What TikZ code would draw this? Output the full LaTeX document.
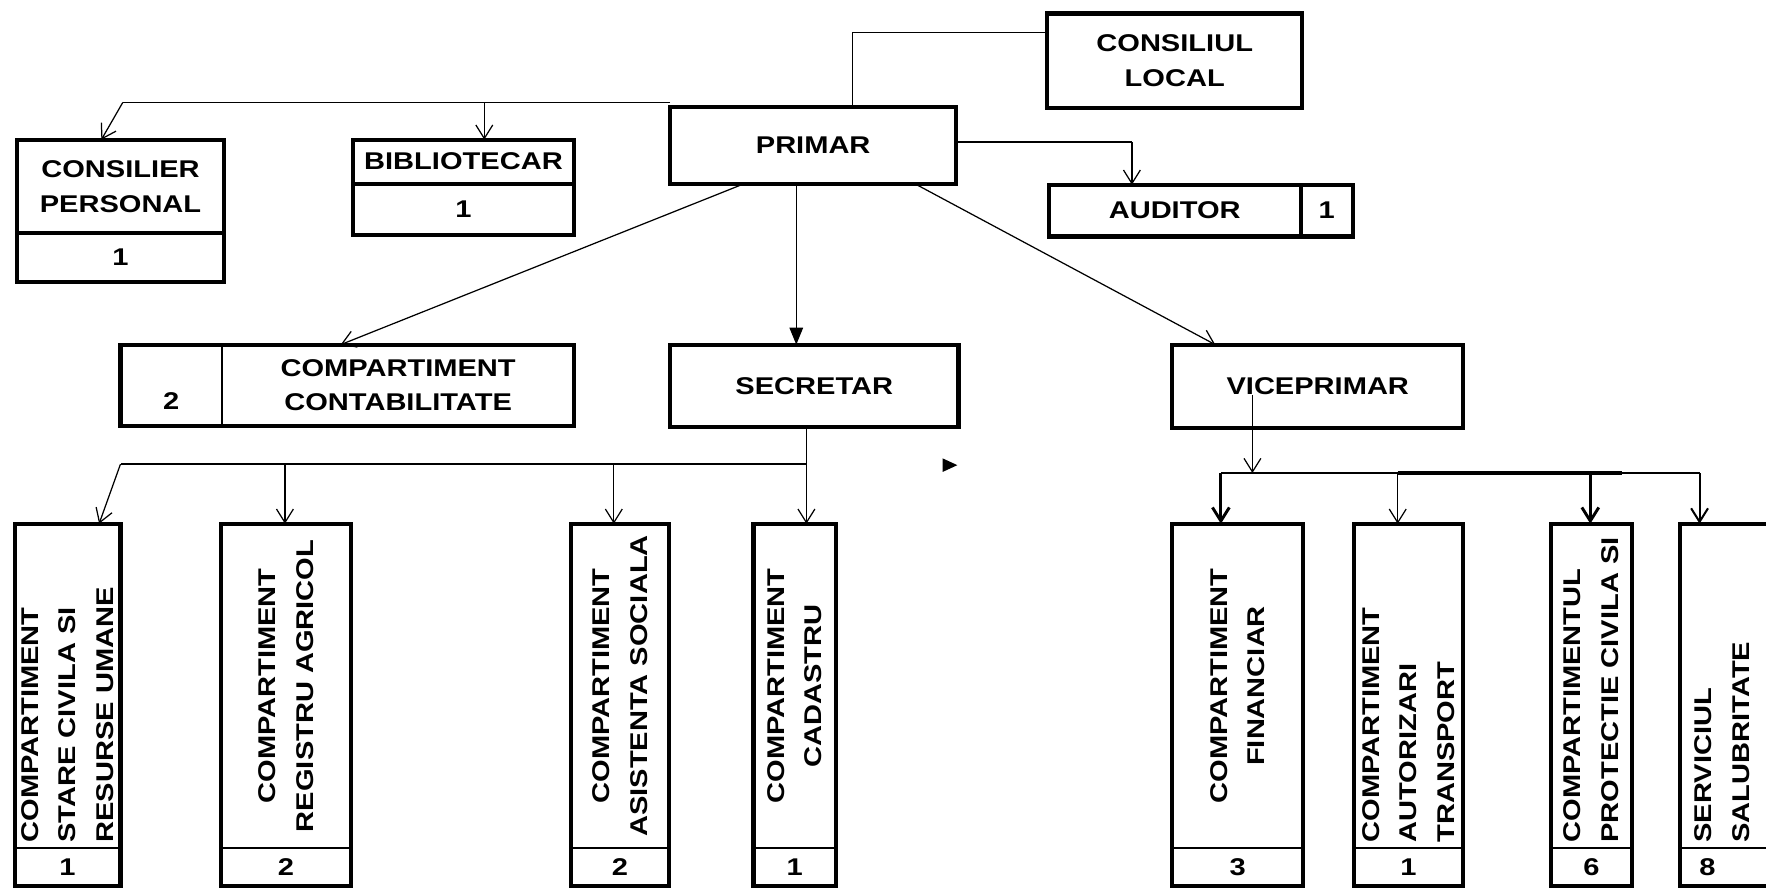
\documentclass[tikz,border=0pt]{standalone}
\usepackage{fontspec}
\setmainfont{Liberation Sans}[FakeStretch=1.2]
\usetikzlibrary{arrows.meta,positioning}

\tikzset{
  box/.style={draw, line width=3.6pt, inner sep=0pt, outer sep=0pt, align=center},
  cell/.style={draw, line width=1.2pt, inner sep=0pt, outer sep=0pt, align=center},
  link/.style={line width=1.1pt},
  conn/.style={link, -{Straight Barb[length=12pt,width=15pt]}},
  tri/.style={link, -{Triangle[length=15pt,width=12pt]}},
  vlabel/.style={rotate=90, inner xsep=5pt, inner ysep=0pt, outer sep=0pt, minimum width=288pt,
    text width=278pt, font=\bfseries\fontsize{21.5}{33.5}\selectfont}
}

\begin{document}
\begin{tikzpicture}[x=1pt, y=-1pt, font=\bfseries\fontsize{21.5}{31}\selectfont]
  \useasboundingbox (0,0) rectangle (1568,789);
  \clip (0,0) rectangle (1568,789);

  % Top: council, mayor and staff
  \node[box, minimum width=226pt, minimum height=84pt] (council) at (1043,54) {CONSILIUL\\LOCAL};
  \node[box, minimum width=254pt, minimum height=68pt] (mayor) at (722,129) {PRIMAR};
  \node[box, minimum width=184pt, minimum height=83pt] (advisor) at (107,165.5) {CONSILIER\\PERSONAL};
  \node[box, minimum width=184pt, minimum height=43pt, below=0pt of advisor] (advisor-k) {1};
  \node[box, minimum width=197pt, minimum height=39pt] (librarian) at (411.5,143.5) {BIBLIOTECAR};
  \node[box, minimum width=197pt, minimum height=46pt, below=0pt of librarian] (librarian-k) {1};
  \node[box, minimum width=224pt, minimum height=46pt] (auditor) at (1043,187) {AUDITOR};
  \node[box, minimum width=46pt, minimum height=46pt, right=0pt of auditor] (auditor-k) {1};

  % Middle row
  \node[box, minimum width=403pt, minimum height=72pt] (accounting) at (308.5,342) {};
  \node[cell, minimum width=90pt, minimum height=72pt, anchor=west] (accounting-k) at (accounting.west) {\strut\\\strut2};
  \node[cell, minimum width=313pt, minimum height=72pt, anchor=east] (accounting-t) at (accounting.east) {COMPARTIMENT\\CONTABILITATE};
  \node[box, minimum width=256pt, minimum height=73pt] (secretary) at (723,342.5) {SECRETAR};
  \node[box, minimum width=258pt, minimum height=74pt] (deputy) at (1170,343) {VICEPRIMAR};

  % Bottom: departments
  \foreach \nm/\x/\w/\cnt/\al/\txt in {
      civil/60/94/1/left/{COMPARTIMENT\\STARE CIVILA SI\\RESURSE UMANE},
      registry/254/116/2/center/{COMPARTIMENT\\REGISTRU AGRICOL},
      social/550.5/87/2/center/{COMPARTIMENT\\ASISTENTA SOCIALA},
      cadastre/705.5/73/1/center/{COMPARTIMENT\\CADASTRU},
      finance/1099/116/3/center/{COMPARTIMENT\\FINANCIAR},
      transport/1250.5/97/1/left/{COMPARTIMENT\\AUTORIZARI\\TRANSPORT},
      civilprot/1413/72/6/left/{COMPARTIMENTUL\\PROTECTIE CIVILA SI}} {
    \node[box, minimum width=\w, minimum height=322pt, anchor=north] (\nm) at (\x,465) {};
    \node[cell, minimum width=\w, minimum height=34pt, anchor=south] (\nm-k) at (\nm.south) {\cnt};
    \node[vlabel, minimum height=\w, align=\al, anchor=west] (\nm-t) at (\nm-k.north) {\txt};
  }
  \node[box, minimum width=120pt, minimum height=322pt, anchor=north] (sanitation) at (1552,465) {};
  \node[cell, minimum width=120pt, minimum height=34pt, anchor=south] (sanitation-k) at (sanitation.south) {};
  \node (sanitation-n) at (1516,770) {8};
  \node[vlabel, minimum height=72pt, align=left, anchor=west] (sanitation-t) at ([xshift=-23pt]sanitation-k.north) {SERVICIUL\\SALUBRITATE};

  % Links from the mayor
  \coordinate (cb) at (757,29);
  \draw[link] (council.west |- cb) -- (cb) -- (cb |- mayor.north);
  \coordinate (tb0) at (109,91);
  \coordinate (tb1) at (430,91);
  \draw[link] (tb0 -| mayor.west) -- (tb0);
  \draw[conn] (tb0) -- ([xshift=-17pt]advisor.north);
  \draw[conn] (tb1) -- (tb1 |- librarian.north);
  \coordinate (ab) at (1005,126);
  \draw[link] (mayor.east |- ab) -- (ab);
  \draw[conn] (ab) -- (ab |- auditor.north);
  \draw[conn] ([xshift=-61pt]mayor.south) -- ([xshift=-6pt]accounting.north);
  \draw[tri] ([xshift=-15pt]mayor.south) -- ([xshift=-16pt]secretary.north);
  \draw[conn] ([xshift=90pt]mayor.south) -- ([xshift=-91pt]deputy.north);

  % Secretary branch
  \coordinate (sb0) at (107,412);
  \coordinate (sb1) at (253,412);
  \coordinate (sb2) at (545,412);
  \coordinate (sb3) at (716,412);
  \draw[link] (secretary.south -| sb3) -- (sb3) -- (sb0);
  \draw[conn] (sb0) -- ([xshift=28pt]civil.north);
  \draw[conn] (sb1) -- (sb1 |- registry.north);
  \draw[conn] (sb2) -- (sb2 |- social.north);
  \draw[conn] (sb3) -- (sb3 |- cadastre.north);
  \fill (837,407) -- (850,413) -- (837,419) -- cycle;

  % Deputy branch
  \coordinate (vt) at (1112,351);
  \coordinate (vb0) at (1084,420);
  \coordinate (vb1) at (1241,420);
  \coordinate (vb2) at (1412,420);
  \coordinate (vb3) at (1509,420);
  \draw[conn] (vt) -- (vt |- vb0);
  \draw[link] (vb0) -- (vb3);
  \draw[link, line width=3pt] (vb1) -- ([xshift=28pt]vb2);
  \draw[conn, line width=2.6pt] (vb0) -- (vb0 |- finance.north);
  \draw[conn] (vb1) -- (vb1 |- transport.north);
  \draw[conn, line width=2.6pt] (vb2) -- (vb2 |- civilprot.north);
  \draw[conn, line width=1.8pt] (vb3) -- (vb3 |- sanitation.north);
\end{tikzpicture}
\end{document}
